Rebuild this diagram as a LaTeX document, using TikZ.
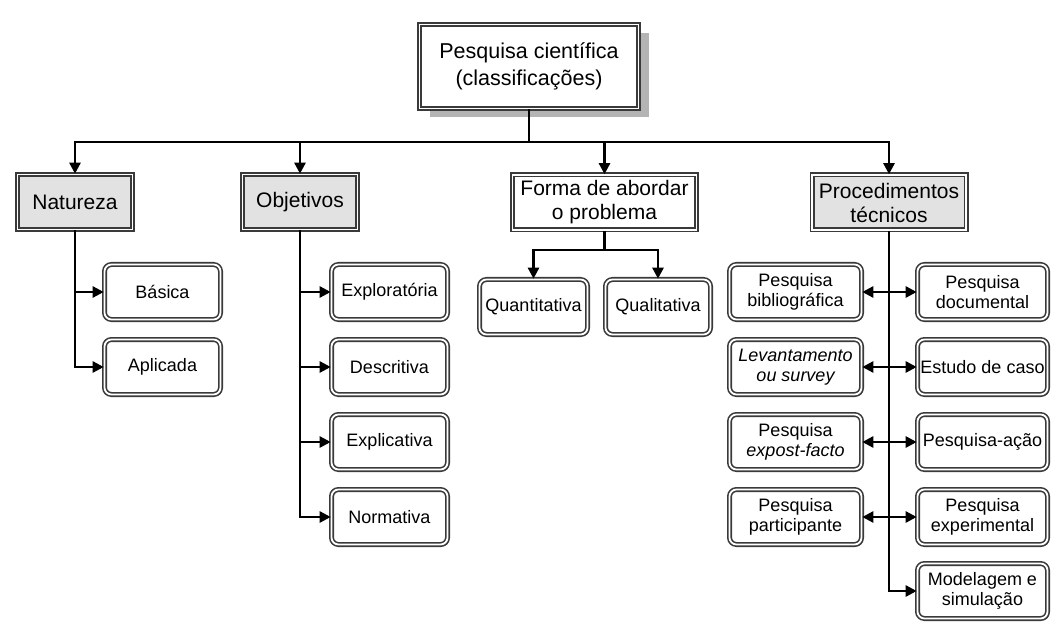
\documentclass[tikz,border=0pt]{standalone}
\usepackage{fontspec}
\setmainfont{Liberation Sans}
\usetikzlibrary{arrows.meta,shadows}
\definecolor{bord}{HTML}{3A3A3A}
\definecolor{hdrfill}{HTML}{E2E2E2}
\definecolor{shadowgray}{HTML}{B4B4B4}
\begin{document}
\begin{tikzpicture}[x=1pt,y=-1pt,
  dbl/.style={draw=bord, line width=1.6pt, double=white, double distance=1.8pt},
  topbox/.style={dbl, fill=white, minimum width=219pt, minimum height=84pt, align=center,
     font=\fontsize{21.5}{27}\selectfont,
     drop shadow={shadow xshift=10pt, shadow yshift=-9pt, fill=shadowgray, opacity=1}},
  hdrbox/.style={dbl, fill=hdrfill, minimum height=55pt, align=center, inner sep=2pt,
     font=\fontsize{21}{24}\selectfont},
  leafbox/.style={dbl, fill=white, rounded corners=7pt, minimum height=55pt, align=center, inner sep=2pt,
     font=\fontsize{18}{19.5}\selectfont,
     drop shadow={shadow xshift=1.8pt, shadow yshift=-1.8pt, fill=bord!85, opacity=1}},
  conn/.style={draw=black, line width=2.5pt},
  arr/.style={conn, -{Triangle[length=11pt,width=11pt]}},
  darr/.style={conn, {Triangle[length=11pt,width=11pt]}-{Triangle[length=11pt,width=11pt]}}
]
\useasboundingbox[fill=white] (0,0) rectangle (1057,628);

% top
\node[topbox] (top) at (529,66.5) {Pesquisa científica\\(classificações)};

% headers
\node[hdrbox, minimum width=115pt] (nat) at (75,202) {Natureza};
\node[hdrbox, minimum width=115pt] (obj) at (300,202) {Objetivos};
\node[hdrbox, fill=white, minimum width=184pt] (forma) at (604.5,202.5) {Forma de abordar\\o problema};
\node[hdrbox, minimum width=154pt] (proc) at (889,202.5) {Procedimentos\\técnicos};

% natureza leaves
\node[leafbox, minimum width=116pt] (bas) at (162.5,292) {Básica};
\node[leafbox, minimum width=116pt] (apl) at (162.5,367) {Aplicada};

% objetivos leaves
\node[leafbox, minimum width=116pt] (exp) at (389.5,292) {Exploratória};
\node[leafbox, minimum width=116pt] (des) at (389.5,367) {Descritiva};
\node[leafbox, minimum width=116pt] (expl) at (389.5,442) {Explicativa};
\node[leafbox, minimum width=116pt] (nor) at (389.5,517) {Normativa};

% forma leaves
\node[leafbox, minimum width=108pt] (quan) at (533.5,307) {Quantitativa};
\node[leafbox, minimum width=105pt] (qual) at (658,307) {Qualitativa};

% procedimentos leaves
\node[leafbox, minimum width=132pt] (l1) at (795.5,292) {Pesquisa\\bibliográfica};
\node[leafbox, minimum width=132pt] (l2) at (795.5,367) {\itshape Levantamento\\\itshape ou survey};
\node[leafbox, minimum width=132pt] (l3) at (795.5,442) {Pesquisa\\\itshape expost-facto};
\node[leafbox, minimum width=132pt] (l4) at (795.5,517) {Pesquisa\\participante};
\node[leafbox, minimum width=130pt] (r1) at (982.5,292) {Pesquisa\\documental};
\node[leafbox, minimum width=130pt] (r2) at (982.5,367) {Estudo de caso};
\node[leafbox, minimum width=130pt] (r3) at (982.5,442) {Pesquisa-ação};
\node[leafbox, minimum width=130pt] (r4) at (982.5,517) {Pesquisa\\experimental};
\node[leafbox, minimum width=130pt] (r5) at (982.5,591) {Modelagem e\\simulação};

% top connectors
\coordinate (hub) at (529,142);
\draw[conn] (top.south) -- (hub);
\draw[arr] (hub) -| (nat.north);
\draw[arr] (hub) -| (obj.north);
\draw[arr] (hub) -| (forma.north);
\draw[arr] (hub) -| (proc.north);

% natureza
\draw[arr] (nat.south) |- (bas.west);
\draw[arr] (nat.south) |- (apl.west);

% objetivos
\draw[arr] (obj.south) |- (exp.west);
\draw[arr] (obj.south) |- (des.west);
\draw[arr] (obj.south) |- (expl.west);
\draw[arr] (obj.south) |- (nor.west);

% forma
\coordinate (fj) at (604.5,250);
\draw[conn] (forma.south) -- (fj);
\draw[arr] (fj) -| (quan.north);
\draw[arr] (fj) -| (qual.north);

% procedimentos
\draw[arr] (proc.south) |- (r5.west);
\draw[darr] (l1.east) -- (r1.west);
\draw[darr] (l2.east) -- (r2.west);
\draw[darr] (l3.east) -- (r3.west);
\draw[darr] (l4.east) -- (r4.west);
\end{tikzpicture}
\end{document}
